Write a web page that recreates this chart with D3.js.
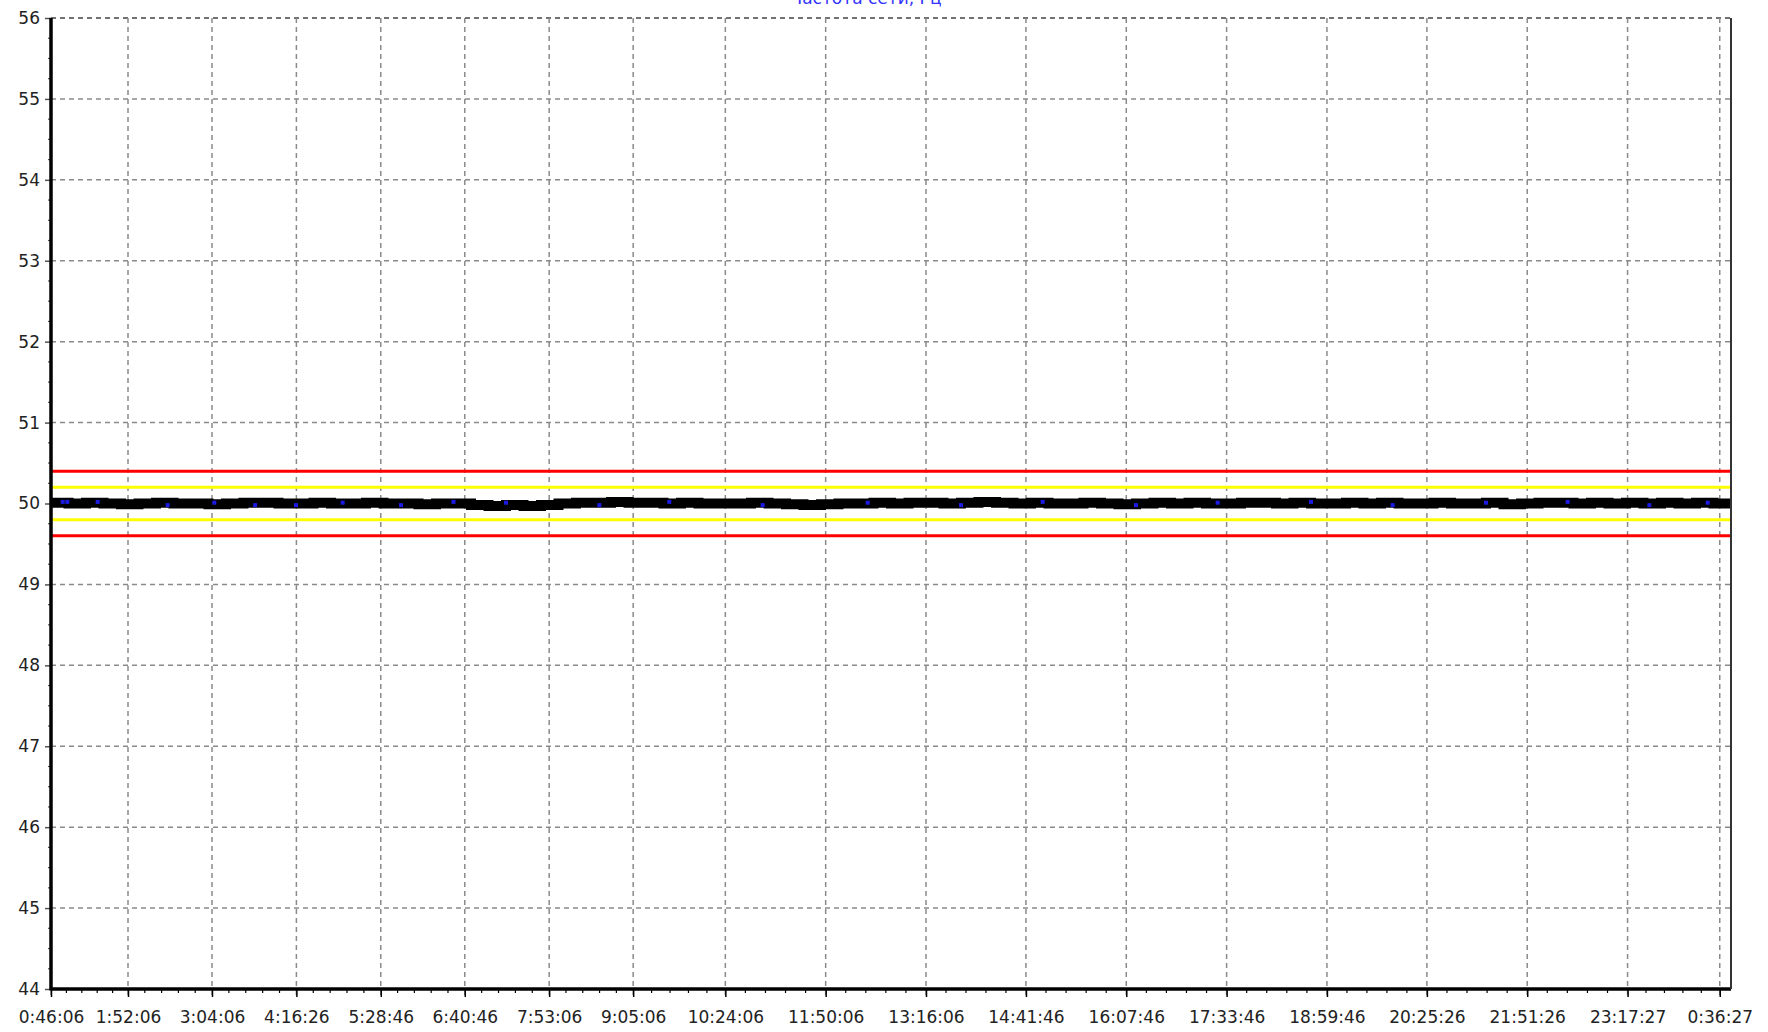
<!DOCTYPE html>
<html>
<head>
<meta charset="utf-8">
<title>Frequency</title>
<script src="https://cdn.jsdelivr.net/npm/d3@7"></script>
<style>
	body { margin: 0; background: #fff; }
	text { font-family: "DejaVu Sans", sans-serif; fill: #222; }
</style>
</head>
<body>
<div id="chart"></div>
<script>
	// ticks on the time axis (as printed)
	var xTickLabels = ['0:46:06','1:52:06','3:04:06','4:16:26','5:28:46','6:40:46','7:53:06','9:05:06',
		'10:24:06','11:50:06','13:16:06','14:41:46','16:07:46','17:33:46','18:59:46','20:25:26',
		'21:51:26','23:17:27','0:36:27'];
	var yTicks = [44,45,46,47,48,49,50,51,52,53,54,55,56];

	// limits
	var redLimits    = [49.6, 50.4];
	var yellowLimits = [49.8, 50.2];

	// frequency, one value every 15 minutes from 0:46:06
	var freqStep = 15;
	var freq = [
		50.01, 50.00, 50.01, 50.00, 49.99, 50.00, 50.01, 50.00, 50.00, 49.99,
		50.00, 50.01, 50.01, 50.00, 50.00, 50.01, 50.00, 50.00, 50.01, 50.00,
		50.00, 49.99, 50.00, 50.00, 49.98, 49.97, 49.98, 49.97, 49.98, 50.00,
		50.01, 50.01, 50.02, 50.01, 50.01, 50.00, 50.01, 50.00, 50.00, 50.00,
		50.01, 50.00, 49.99, 49.98, 49.99, 50.00, 50.00, 50.01, 50.00, 50.01,
		50.01, 50.00, 50.01, 50.02, 50.01, 50.00, 50.01, 50.00, 50.00, 50.01,
		50.00, 49.99, 50.00, 50.01, 50.00, 50.01, 50.00, 50.00, 50.01, 50.01,
		50.00, 50.01, 50.00, 50.00, 50.01, 50.00, 50.01, 50.00, 50.00, 50.01,
		50.00, 50.00, 50.01, 49.99, 50.00, 50.01, 50.01, 50.00, 50.01, 50.00,
		50.01, 50.00, 50.01, 50.00, 50.01, 50.00, 50.01
	];

	// blue points (minutes from start, value)
	var blueMinutes = [10, 14, 40, 100, 140, 175, 210, 250, 300, 345, 390, 470, 530, 610, 700, 780, 850, 930, 1000, 1080, 1150, 1230, 1300, 1370, 1420];
	var blueValues  = [50.02, 50.02, 50.02, 49.98, 50.01, 49.98, 49.98, 50.01, 49.98, 50.02, 50.01, 49.98, 50.02, 49.98, 50.01, 49.98, 50.02, 49.98, 50.01, 50.02, 49.98, 50.01, 50.02, 49.98, 50.01];

	var width = 1768, height = 1032;
	var margin = {top: 18, left: 51, right: 37, bottom: 43};
	var pw = width - margin.left - margin.right;
	var ph = height - margin.top - margin.bottom;

	var parseT = d3.timeParse('%Y-%m-%d %H:%M:%S');
	var start = parseT('2020-01-01 ' + xTickLabels[0]);
	function toDate(s) {
		var d = parseT('2020-01-01 ' + s);
		if (d < start) d = d3.timeDay.offset(d, 1);
		return d;
	}
	var xTickDates = xTickLabels.map(toDate);

	var x = d3.scaleTime()
		.domain([start, d3.timeDay.offset(start, 1)])
		.range([0, pw]);
	var y = d3.scaleLinear()
		.domain([44, 56])
		.range([ph, 0]);

	var svg = d3.select('#chart').append('svg')
		.attr('width', width)
		.attr('height', height);

	svg.append('rect').attr('width', width).attr('height', height).attr('fill', '#fff');

	svg.append('clipPath').attr('id', 'plot-clip')
		.append('rect').attr('width', pw).attr('height', ph);

	// title, only its lower edge shows at the top
	svg.append('text')
		.attr('x', 866)
		.attr('y', 4)
		.attr('text-anchor', 'middle')
		.style('font-size', '17px')
		.style('fill', '#3333ff')
		.text('Частота сети, Гц');

	var g = svg.append('g').attr('transform', 'translate(' + margin.left + ',' + margin.top + ')');

	// grid
	g.append('g').selectAll('line').data(yTicks).enter().append('line')
		.attr('x1', 0).attr('x2', pw)
		.attr('y1', function(d){ return y(d); })
		.attr('y2', function(d){ return y(d); })
		.attr('stroke', function(d){ return d === 56 ? '#444' : '#8a8a8a'; })
		.attr('stroke-width', 1.5)
		.attr('stroke-dasharray', '5,4');

	g.append('g').selectAll('line').data(xTickDates).enter().append('line')
		.attr('x1', function(d){ return x(d); })
		.attr('x2', function(d){ return x(d); })
		.attr('y1', 0).attr('y2', ph + 8)
		.attr('stroke', '#8a8a8a')
		.attr('stroke-width', 1.5)
		.attr('stroke-dasharray', '5,4');

	// limit lines
	g.selectAll('.red').data(redLimits).enter().append('line')
		.attr('class', 'red')
		.attr('x1', 0).attr('x2', pw)
		.attr('y1', function(d){ return y(d); })
		.attr('y2', function(d){ return y(d); })
		.attr('stroke', '#ff0000').attr('stroke-width', 3);

	g.selectAll('.yellow').data(yellowLimits).enter().append('line')
		.attr('class', 'yellow')
		.attr('x1', 0).attr('x2', pw)
		.attr('y1', function(d){ return y(d); })
		.attr('y2', function(d){ return y(d); })
		.attr('stroke', '#ffff00').attr('stroke-width', 3);

	// frequency line (stepped, like the logger draws it)
	var line = d3.line()
		.x(function(d, i){ return x(d3.timeMinute.offset(start, i * freqStep)); })
		.y(function(d){ return y(d); })
		.curve(d3.curveStepAfter);

	var series = g.append('g').attr('clip-path', 'url(#plot-clip)');

	series.append('path')
		.datum(freq)
		.attr('d', line)
		.attr('fill', 'none')
		.attr('stroke', '#000')
		.attr('stroke-width', 10)
		.attr('stroke-linejoin', 'miter')
		.attr('stroke-linecap', 'butt');

	series.selectAll('.dot').data(blueMinutes).enter().append('rect')
		.attr('class', 'dot')
		.attr('x', function(d){ return x(d3.timeMinute.offset(start, d)) - 2; })
		.attr('y', function(d, i){ return y(blueValues[i]) - 2; })
		.attr('width', 4).attr('height', 4)
		.attr('fill', '#1a1ae0');

	// axes
	var xAxis = d3.axisBottom(x)
		.tickValues(xTickDates)
		.tickFormat(function(d, i){ return xTickLabels[i]; })
		.tickSize(8)
		.tickPadding(14);
	var gx = g.append('g').attr('transform', 'translate(0,' + ph + ')').call(xAxis);
	gx.select('.domain').remove();
	gx.selectAll('.tick line').attr('stroke', '#000').attr('stroke-width', 1.5);
	gx.selectAll('text').style('font-size', '17px').attr('fill', '#222');

	// minor ticks on x: 4 between each pair of major ticks
	var xMinor = [];
	for (var i = 0; i < xTickDates.length - 1; i++) {
		var a = x(xTickDates[i]), b = x(xTickDates[i + 1]);
		for (var k = 1; k < 5; k++) xMinor.push(a + (b - a) * k / 5);
	}
	g.append('g').selectAll('line').data(xMinor).enter().append('line')
		.attr('x1', function(d){ return d; }).attr('x2', function(d){ return d; })
		.attr('y1', ph).attr('y2', ph + 4)
		.attr('stroke', '#000').attr('stroke-width', 1.2);

	var yAxis = d3.axisLeft(y)
		.tickValues(yTicks)
		.tickFormat(d3.format('d'))
		.tickSize(6)
		.tickPadding(5);
	var gy = g.append('g').call(yAxis);
	gy.select('.domain').remove();
	gy.selectAll('.tick line').attr('stroke', '#555').attr('stroke-width', 1.5);
	gy.selectAll('text').style('font-size', '17px').attr('fill', '#222');

	var yMinor = d3.range(44, 56, 0.25).filter(function(v){ return v % 1 !== 0; });
	g.append('g').selectAll('line').data(yMinor).enter().append('line')
		.attr('x1', -3).attr('x2', 0)
		.attr('y1', function(d){ return y(d); })
		.attr('y2', function(d){ return y(d); })
		.attr('stroke', '#555').attr('stroke-width', 1.2);

	// frame: thick left and bottom, thin right
	g.append('line').attr('x1', 0).attr('x2', 0).attr('y1', 0).attr('y2', ph + 1.5)
		.attr('stroke', '#000').attr('stroke-width', 3.5);
	g.append('line').attr('x1', 0).attr('x2', pw).attr('y1', ph).attr('y2', ph)
		.attr('stroke', '#000').attr('stroke-width', 3.5);
	g.append('line').attr('x1', pw).attr('x2', pw).attr('y1', 0).attr('y2', ph)
		.attr('stroke', '#333').attr('stroke-width', 2);
</script>
</body>
</html>
